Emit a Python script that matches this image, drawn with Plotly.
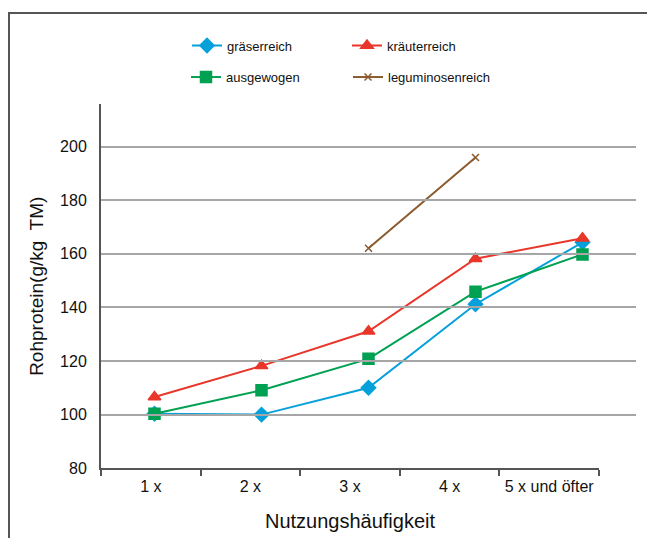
import plotly.graph_objects as go

categories = ["1 x", "2 x", "3 x", "4 x", "5 x und öfter"]
positions = [1, 2, 3, 4, 5]
graeserreich = [100.3, 100.0, 110.0, 141.2, 164.3]
kraeuterreich = [106.6, 118.2, 131.1, 158.2, 165.8]
ausgewogen = [100.3, 109.1, 120.8, 145.9, 159.8]
leguminosenreich = [None, None, 162.1, 196.0, None]

OFF = 8  # default page body margin
W, H = 655 - 2 * OFF, 555 - 2 * OFF
def px(x):
    return (x - OFF) / W
def py(y):
    return 1 - (y - OFF) / H

fig = go.Figure()

series = [
    ("gräserreich", graeserreich, "#06A0DA", "diamond", 11, "legend"),
    ("kräuterreich", kraeuterreich, "#E8372A", "triangle-up", 11, "legend"),
    ("ausgewogen", ausgewogen, "#00A152", "square", 11, "legend2"),
    ("leguminosenreich", leguminosenreich, "#8B5A2E", "x-thin", 7, "legend2"),
]
for name, vals, col, sym, sz, lg in series:
    fig.add_trace(go.Scatter(
        x=positions, y=vals, name=name, mode="lines+markers",
        line=dict(color=col, width=2),
        marker=dict(symbol=sym, size=sz, color=col, line=dict(color=col, width=1.5)),
        connectgaps=False, legend=lg, xaxis="x", yaxis="y",
    ))

# invisible trace to establish the category axis
fig.add_trace(go.Scatter(
    x=categories, y=[80] * 5, mode="markers", marker=dict(opacity=0),
    showlegend=False, hoverinfo="skip", xaxis="x2", yaxis="y",
))

fig.update_layout(
    width=W, height=H,
    margin=dict(l=0, r=0, t=0, b=0),
    paper_bgcolor="white", plot_bgcolor="rgba(0,0,0,0)",
    font=dict(family="Liberation Sans, Arial, sans-serif", color="#111111", size=14),
    xaxis=dict(domain=[px(101), px(636)], range=[0.5, 5.5], showgrid=False,
               showticklabels=False, zeroline=False, showline=False, anchor="y"),
    xaxis2=dict(domain=[px(101), px(599)], anchor="y", type="category",
                categoryorder="array", categoryarray=categories,
                showline=True, linecolor="#555555", linewidth=1.5,
                ticks="outside", tickson="boundaries", ticklen=6, tickwidth=1.5,
                tickcolor="#555555", showgrid=False, zeroline=False,
                tickfont=dict(size=16), range=[-0.5, 4.5], ticklabelstandoff=3,
                title=dict(text="Nutzungshäufigkeit", font=dict(size=20), standoff=20)),
    yaxis=dict(domain=[py(476), py(106)], range=[80, 215.8], anchor="x",
               tickvals=[80, 100, 120, 140, 160, 180, 200],
               showgrid=True, gridcolor="#A6A6A6", gridwidth=1.5,
               showline=True, linecolor="#555555", linewidth=2,
               zeroline=False, ticks="", ticklen=0, tickfont=dict(size=16),
               ticklabelstandoff=9,
               title=dict(text="Rohprotein(g/kg  TM)", font=dict(size=19), standoff=11)),
    legend=dict(orientation="h", x=px(187), y=py(31), xanchor="left", yanchor="top",
                entrywidth=115, entrywidthmode="pixels", font=dict(size=13),
                bgcolor="rgba(0,0,0,0)", itemwidth=30, tracegroupgap=0),
    legend2=dict(orientation="h", x=px(186), y=py(63), xanchor="left", yanchor="top",
                 entrywidth=117, entrywidthmode="pixels", font=dict(size=13),
                 bgcolor="rgba(0,0,0,0)", itemwidth=30, tracegroupgap=0),
    shapes=[
        dict(type="line", xref="paper", yref="paper", x0=px(8), x1=1, y0=py(13), y1=py(13),
             line=dict(color="#555555", width=2)),
        dict(type="line", xref="paper", yref="paper", x0=px(9), x1=px(9), y0=py(13), y1=0,
             line=dict(color="#555555", width=2)),
    ],
)

fig.write_html("out.html")
